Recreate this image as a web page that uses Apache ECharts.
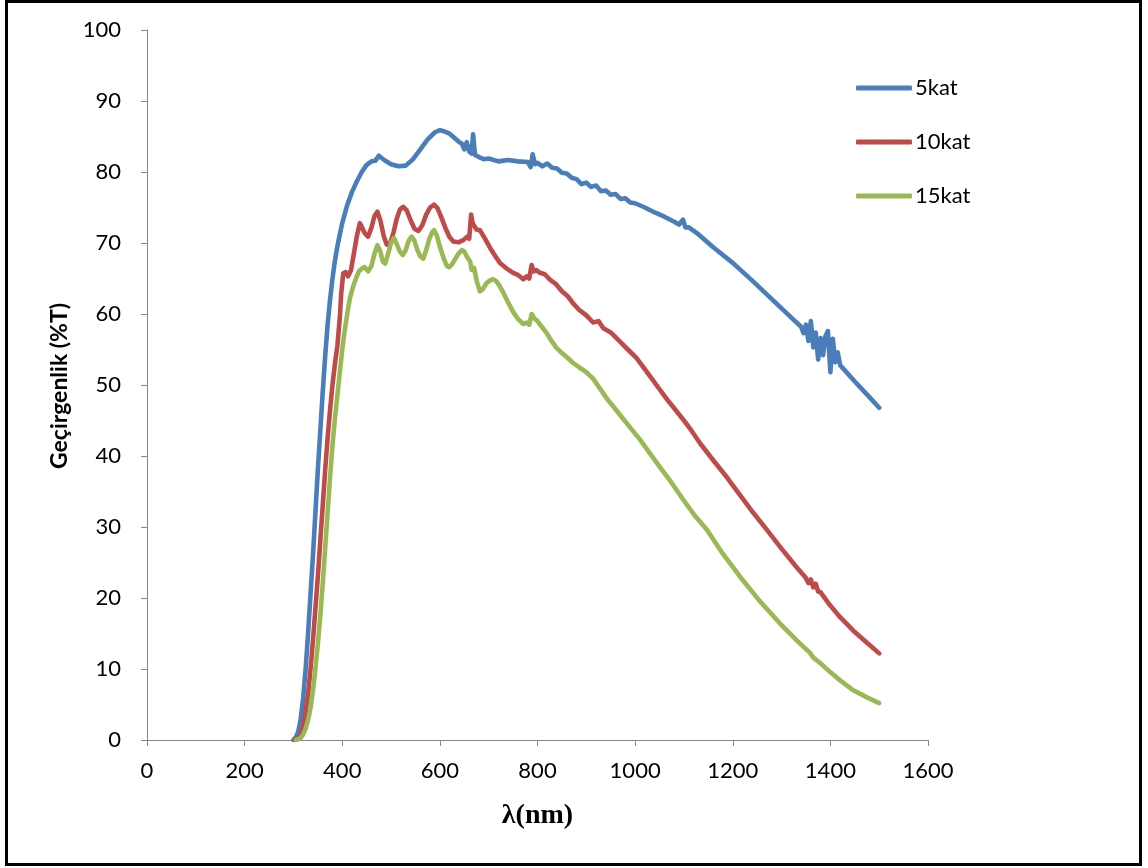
<!DOCTYPE html>
<html>
<head>
<meta charset="utf-8">
<script src="https://cdn.jsdelivr.net/npm/echarts@6/dist/echarts.min.js"></script>
<style>
html,body{margin:0;padding:0;background:#fff;}
#c{width:1148px;height:868px;}
</style>
</head>
<body>
<div id="c"></div>
<script>
// Series names and axis titles
const seriesNames = ['5kat', '10kat', '15kat'];
const xTitle = 'λ(nm)';
const yTitle = 'Geçirgenlik (%T)';
// Axis tick settings
const xTicks = {min: 0, max: 1600, interval: 200};
const yTicks = {min: 0, max: 100, interval: 10};

// 5kat : [wavelength nm, transmittance %]
const s5 = [[300,0],[305,0.4],[310,1.2],[315,3],[320,6],[325,10],[330,15],[335,20.5],[340,26],[345,32],[350,38],[355,43.5],[360,49],[365,54],[370,58.5],[375,62],[380,65],[385,67.5],[390,69.5],[395,71.2],[400,72.8],[410,75.3],[420,77.2],[430,78.7],[440,80],[450,81],[460,81.5],[468,81.6],[475,82.3],[482,81.9],[490,81.5],[500,81.1],[515,80.8],[530,80.9],[545,81.8],[560,83.2],[575,84.6],[590,85.6],[600,85.9],[610,85.7],[620,85.4],[630,84.8],[640,84.2],[645,84.0],[650,83.2],[655,84.2],[660,82.9],[665,82.6],[668,85.3],[672,82.4],[680,82.1],[690,81.8],[700,81.9],[720,81.5],[740,81.7],[760,81.5],[780,81.4],[786,80.7],[790,82.5],[795,81.1],[800,81.3],[810,80.8],[820,81.2],[830,80.6],[840,80.5],[850,79.9],[860,79.8],[870,79.2],[880,79.0],[890,78.3],[900,78.5],[910,77.9],[920,78.1],[930,77.3],[940,77.4],[950,76.8],[960,76.9],[970,76.2],[980,76.3],[990,75.7],[1000,75.6],[1020,75.0],[1040,74.3],[1060,73.7],[1080,73.0],[1090,72.6],[1098,73.3],[1103,72.2],[1110,72.2],[1130,71.2],[1160,69.4],[1200,67.2],[1240,64.7],[1280,62.1],[1320,59.5],[1340,58.2],[1345,57.3],[1350,58.5],[1355,56.2],[1360,59.0],[1365,55.3],[1370,57.4],[1375,53.6],[1380,56.6],[1385,54.2],[1390,56.9],[1395,57.6],[1400,51.8],[1405,56.5],[1410,53.2],[1415,54.6],[1420,52.8],[1450,50.5],[1480,48.3],[1500,46.8]];

// 10kat
const s10 = [[302,0],[310,0.3],[315,0.8],[320,2],[325,4],[330,6.5],[335,10],[340,14],[345,18.5],[350,23],[355,28],[360,33],[365,38],[370,42.5],[375,46.5],[380,50],[385,53],[390,55.5],[395,59.5],[398,63],[402,65.7],[407,65.9],[412,65.3],[418,66.2],[425,69],[430,71],[436,72.8],[440,72.6],[446,71.4],[453,70.9],[460,72.2],[466,73.8],[472,74.4],[478,73.2],[485,71],[491,69.8],[497,69.7],[505,71.5],[512,73.5],[518,74.7],[525,75.1],[532,74.6],[540,73.2],[548,72],[556,71.7],[564,72.5],[572,74],[580,75],[588,75.4],[595,74.9],[603,73.6],[612,72],[620,70.8],[628,70.2],[638,70.1],[648,70.4],[656,70.9],[660,70.6],[664,74.0],[667,72.8],[671,73.0],[675,71.9],[682,71.8],[690,70.9],[703,69.3],[713,68.2],[723,67.2],[735,66.5],[750,65.8],[760,65.5],[771,64.9],[778,65.3],[783,65.0],[788,66.9],[792,66.0],[797,66.2],[805,65.8],[815,65.6],[826,64.8],[838,64.2],[850,63.2],[862,62.5],[873,61.5],[885,60.6],[900,59.8],[914,58.8],[925,59.0],[935,58.0],[950,57.4],[969,56.1],[985,55.0],[1003,53.8],[1030,51.3],[1050,49.4],[1065,48.0],[1078,46.9],[1100,45.0],[1112,43.9],[1133,41.8],[1160,39.4],[1188,37.0],[1215,34.5],[1242,32.0],[1270,29.6],[1297,27.2],[1330,24.4],[1350,22.8],[1355,22.1],[1360,22.6],[1365,21.5],[1370,22.0],[1375,20.9],[1380,20.8],[1399,19.0],[1420,17.3],[1447,15.4],[1475,13.7],[1500,12.2]];

// 15kat
const s15 = [[305,0],[310,0.1],[315,0.3],[320,0.8],[325,1.6],[330,2.8],[335,4.5],[340,7],[345,10],[350,13.5],[355,17.5],[360,22],[365,27],[370,32],[375,37],[380,41.5],[385,45.3],[390,48.5],[395,51.8],[400,55],[404,57.2],[408,59],[412,60.8],[416,62.3],[422,63.8],[428,65],[434,66],[440,66.4],[446,66.6],[453,66.0],[460,66.8],[466,68.5],[472,69.7],[478,68.8],[483,67.4],[488,67.1],[494,68.5],[500,70.0],[506,70.7],[512,69.8],[518,68.8],[524,68.3],[530,69.0],[536,70.3],[542,70.9],[548,70.3],[554,69.0],[560,68.1],[566,67.8],[572,69.0],[578,70.5],[584,71.5],[588,71.8],[594,71.0],[600,69.5],[608,67.8],[614,66.8],[619,66.6],[625,67.0],[632,67.8],[638,68.5],[645,69.0],[650,68.8],[656,68.0],[662,67.4],[665,66.2],[670,66.5],[676,64.5],[682,63.2],[688,63.5],[695,64.3],[702,64.7],[709,64.9],[716,64.6],[722,64.0],[730,63.0],[740,61.6],[750,60.3],[760,59.3],[771,58.6],[778,58.8],[783,58.5],[788,60.0],[793,59.4],[800,59.0],[810,58.1],[820,57.2],[826,56.5],[838,55.3],[850,54.5],[862,53.8],[873,53.1],[885,52.5],[900,51.8],[914,50.9],[930,49.3],[945,47.8],[955,47.0],[970,45.7],[990,44.0],[1010,42.3],[1030,40.4],[1050,38.5],[1075,36.2],[1099,33.8],[1120,31.8],[1147,29.6],[1180,26.2],[1215,23.0],[1255,19.6],[1297,16.4],[1330,14.1],[1350,12.8],[1358,12.3],[1365,11.6],[1380,10.8],[1399,9.6],[1420,8.4],[1447,7.0],[1475,6.0],[1500,5.2]];

const colors = ['#4a7ebb', '#be4b48', '#98b954'];
const chart = echarts.init(document.getElementById('c'), null, {renderer: 'canvas'});
const axisColor = '#868686';
const labelFont = 'Lato, "Open Sans", sans-serif';

function mk(name, data, color) {
  return {
    name: name, type: 'line', data: data, showSymbol: false, symbol: 'none',
    smooth: false, animation: false,
    lineStyle: {color: color, width: 4.6, cap: 'round', join: 'round'},
    itemStyle: {color: color}
  };
}

chart.setOption({
  animation: false,
  backgroundColor: '#fff',
  grid: {left: 147, right: 220, top: 30, bottom: 128, containLabel: false},
  legend: {
    orient: 'vertical', left: 851, top: 72,
    itemWidth: 56, itemHeight: 5, itemGap: 32, icon: 'roundRect',
    textStyle: {fontFamily: labelFont, fontSize: 22, color: '#000', lineHeight: 22, padding: [0,0,0,-2]},
    data: seriesNames
  },
  xAxis: {
    type: 'value', min: xTicks.min, max: xTicks.max, interval: xTicks.interval,
    name: xTitle, nameLocation: 'middle', nameGap: 62,
    nameTextStyle: {fontFamily: '"Liberation Serif", "Times New Roman", serif', fontWeight: 'bold', fontSize: 28, color: '#000'},
    axisLine: {show: true, onZero: false, lineStyle: {color: axisColor, width: 1}},
    axisTick: {show: true, length: 6, inside: false, lineStyle: {color: axisColor}},
    axisLabel: {fontFamily: labelFont, fontSize: 22, color: '#000', margin: 20, formatter: v => String(v)},
    splitLine: {show: false}
  },
  yAxis: {
    type: 'value', min: yTicks.min, max: yTicks.max, interval: yTicks.interval,
    axisLine: {show: true, lineStyle: {color: axisColor, width: 1}},
    axisTick: {show: true, length: 6, inside: false, lineStyle: {color: axisColor}},
    axisLabel: {fontFamily: labelFont, fontSize: 22, color: '#000', margin: 26, formatter: v => String(v)},
    splitLine: {show: false}
  },
  graphic: [{
    type: 'rect', silent: true, z: 100,
    shape: {x: 6.5, y: 1.5, width: 1134, height: 863},
    style: {fill: 'none', stroke: '#000', lineWidth: 3}
  }, {
    type: 'text', silent: true, x: 60, y: 386, rotation: Math.PI / 2,
    style: {text: yTitle, fontFamily: labelFont, fontWeight: 'bold', fontSize: 23, fill: '#000',
            align: 'center', verticalAlign: 'middle'}
  }],
  series: [mk(seriesNames[0], s5, colors[0]), mk(seriesNames[1], s10, colors[1]), mk(seriesNames[2], s15, colors[2])]
});
</script>
</body>
</html>
